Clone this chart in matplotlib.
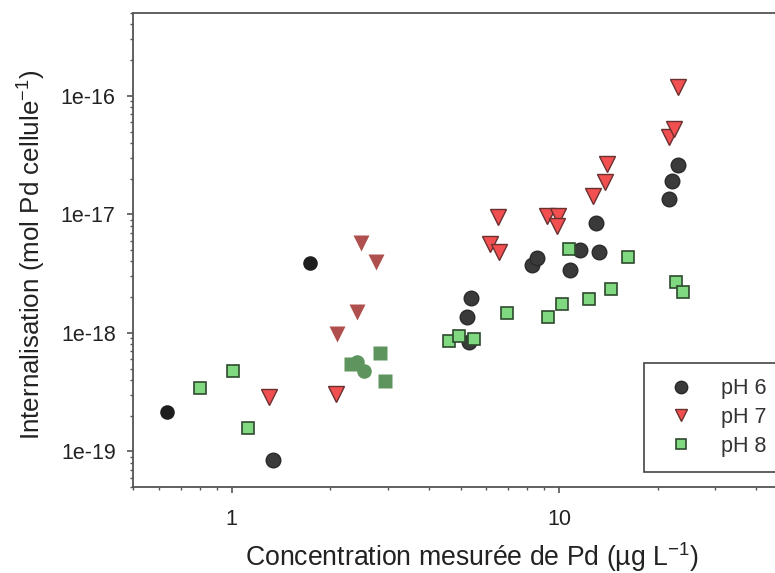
import matplotlib
matplotlib.use("Agg")
import matplotlib.pyplot as plt
from matplotlib.ticker import LogLocator, FixedLocator, FixedFormatter, NullFormatter

plt.rcParams['font.family'] = ['Liberation Sans', 'DejaVu Sans']
plt.rcParams['mathtext.fontset'] = 'custom'
plt.rcParams['mathtext.rm'] = 'Liberation Sans'
plt.rcParams['mathtext.it'] = 'Liberation Sans'

# pH 6 (dark circles, outlined)
ph6_x = [1.34, 5.29, 5.23, 5.38, 8.27, 8.57, 10.8, 11.6, 13.2, 13.0, 21.6, 22.1, 23.1]
ph6_y = [8.4e-20, 8.43e-19, 1.35e-18, 1.96e-18, 3.76e-18, 4.28e-18, 3.36e-18, 5.04e-18,
         4.78e-18, 8.5e-18, 1.35e-17, 1.9e-17, 2.59e-17]
# pH 7 (red triangles, outlined)
ph7_x = [1.30, 2.09, 6.14, 6.57, 6.49, 9.19, 9.93, 9.82, 12.7, 13.8, 14.0, 21.6, 22.4, 23.1]
ph7_y = [2.86e-19, 3.04e-19, 5.62e-18, 4.78e-18, 9.5e-18, 9.77e-18, 9.77e-18, 8.04e-18,
         1.44e-17, 1.87e-17, 2.64e-17, 4.5e-17, 5.3e-17, 1.18e-16]
# pH 8 (green squares, outlined)
ph8_x = [0.80, 1.01, 1.12, 4.60, 4.94, 5.51, 6.94, 9.23, 10.2, 10.7, 12.3, 14.4, 16.2, 22.7, 23.9]
ph8_y = [3.42e-19, 4.76e-19, 1.57e-19, 8.53e-19, 9.46e-19, 8.87e-19, 1.47e-18, 1.35e-18,
         1.76e-18, 5.13e-18, 1.94e-18, 2.34e-18, 4.37e-18, 2.71e-18, 2.19e-18]
# other points drawn without outline
blk_x = [0.636, 1.73]
blk_y = [2.13e-19, 3.9e-18]
brown_x = [2.49, 2.77, 2.41, 2.10]
brown_y = [5.75e-18, 3.97e-18, 1.50e-18, 9.75e-19]
gsq_x = [2.83, 2.95, 2.32]
gsq_y = [6.73e-19, 3.9e-19, 5.43e-19]
gci_x = [2.41, 2.53]
gci_y = [5.65e-19, 4.74e-19]

legend_labels = ['pH 6', 'pH 7', 'pH 8']
xlabel = r'Concentration mesurée de Pd (µg L$^{\mathregular{-1}}$)'
ylabel = r'Internalisation (mol Pd cellule$^{\mathregular{-1}}$)'

W, H = 775, 573
fig = plt.figure(figsize=(W / 100, H / 100), dpi=100)
ax = fig.add_axes([133 / W, 1 - 487 / H, (788 - 133) / W, (487 - 13) / H])
ax.set_xscale('log')
ax.set_yscale('log')
ax.set_xlim(0.5, 50)
ax.set_ylim(5e-20, 5e-16)

ax.plot(blk_x, blk_y, 'o', ms=10.5, mfc='#1e1e1e', mec='none', zorder=3)
ax.plot(brown_x, brown_y, 'v', ms=11, mfc='#b0504e', mec='none', zorder=3)
ax.plot(gsq_x, gsq_y, 's', ms=9.5, mfc='#5e945e', mec='none', zorder=3)
ax.plot(gci_x, gci_y, 'o', ms=10.5, mfc='#5e945e', mec='none', zorder=3)

l6, = ax.plot(ph6_x, ph6_y, 'o', ms=10.5, mfc='#3a3a3a', mec='#2a2a2a', mew=1.0, zorder=4, label=legend_labels[0])
l7, = ax.plot(ph7_x, ph7_y, 'v', ms=11, mfc='#f25050', mec='#6a3030', mew=1.0, zorder=4, label=legend_labels[1])
l8, = ax.plot(ph8_x, ph8_y, 's', ms=9, mfc='#80d880', mec='#2e4a2e', mew=1.2, zorder=4, label=legend_labels[2])

ax.spines['right'].set_visible(False)
for s in ['left', 'bottom', 'top']:
    ax.spines[s].set_color('#555555')
    ax.spines[s].set_linewidth(1.3)

ax.xaxis.set_major_locator(FixedLocator([1, 10]))
ax.xaxis.set_major_formatter(FixedFormatter(['1', '10']))
ax.xaxis.set_minor_locator(LogLocator(base=10, subs=range(2, 10)))
ax.xaxis.set_minor_formatter(NullFormatter())
ax.yaxis.set_major_locator(FixedLocator([1e-19, 1e-18, 1e-17, 1e-16]))
ax.yaxis.set_major_formatter(FixedFormatter(['1e-19', '1e-18', '1e-17', '1e-16']))
ax.yaxis.set_minor_locator(LogLocator(base=10, subs=range(2, 10)))
ax.yaxis.set_minor_formatter(NullFormatter())

ax.tick_params(which='both', direction='out', color='#555555', top=False, right=False)
ax.tick_params(which='major', length=4.5, width=1.2, labelsize=15.5, labelcolor='#222222')
ax.tick_params(axis='x', which='major', pad=11)
ax.tick_params(axis='y', which='major', pad=8)
ax.tick_params(which='minor', length=2.5, width=1.0)

ax.set_xlabel(xlabel, fontsize=19.2, color='#222222')
ax.set_ylabel(ylabel, fontsize=18.7, color='#222222')
ax.xaxis.set_label_coords(0.518, -0.113)
ax.yaxis.set_label_coords(-0.130, 0.49)

leg = ax.legend(handles=[l6, l7, l8], loc='lower right', bbox_to_anchor=(0.9908, 0.032),
                fontsize=15.5, frameon=True, fancybox=False, framealpha=1,
                edgecolor='#444444', handlelength=1.96, handletextpad=0.92,
                borderpad=0.7, labelspacing=0.36, markerscale=0.85, borderaxespad=0)
leg.get_frame().set_linewidth(1.2)
for t in leg.get_texts():
    t.set_color('#333333')

fig.savefig('out.png', dpi=100)
